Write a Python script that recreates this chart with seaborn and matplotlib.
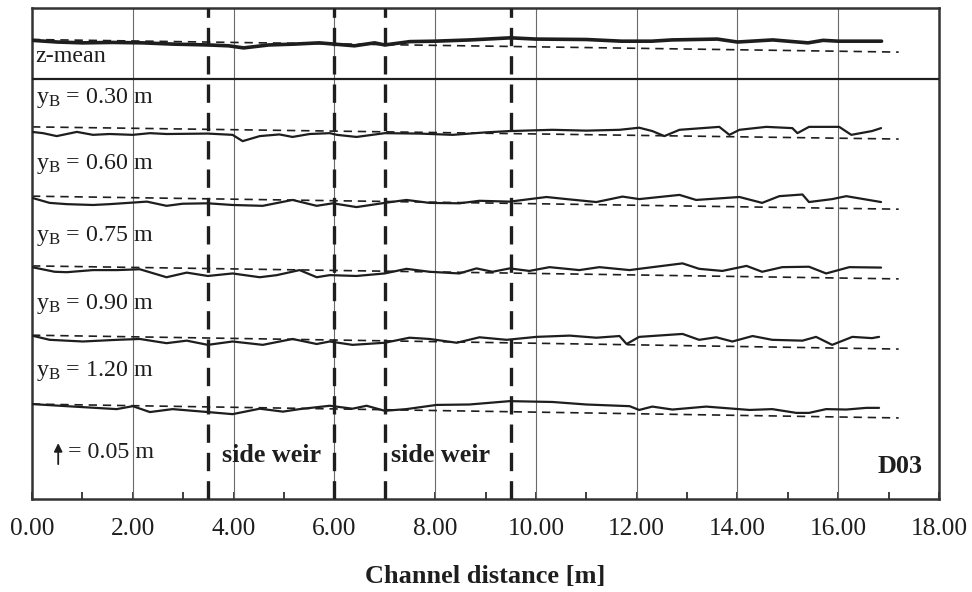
import numpy as np
import pandas as pd
import matplotlib
matplotlib.use("Agg")
import matplotlib.pyplot as plt
import seaborn as sns
from matplotlib.ticker import MultipleLocator, FormatStrFormatter

# ---------------- data (x in m, y = stacked water level in cm) ----------------
x_zmean = [0, 0.5, 1.0, 1.6, 2.2, 2.8, 3.5, 3.9, 4.2, 4.7, 5.2, 5.7, 6.4, 6.8, 7.0, 7.5,
           8.0, 8.7, 9.5, 10.0, 11.0, 11.7, 12.3, 12.7, 13.6, 14.0, 14.7, 15.4, 15.7, 16.0, 16.86]
y_zmean = [109.2, 108.8, 108.6, 108.7, 108.6, 108.3, 108.1, 107.9, 107.4, 108.1, 108.3, 108.6,
           107.9, 108.6, 108.1, 108.9, 109.0, 109.3, 109.8, 109.5, 109.4, 109.0, 109.0, 109.3,
           109.5, 108.8, 109.3, 108.6, 109.2, 109.0, 109.0]

x_030 = [0.0, 0.22, 0.49, 0.89, 1.21, 1.54, 2.0, 2.34, 2.67, 3.49, 3.98, 4.18, 4.52, 4.91,
         5.17, 5.51, 5.91, 6.05, 6.44, 7.0, 7.69, 8.35, 9.02, 9.48, 10.33, 11.0, 11.66, 12.05,
         12.31, 12.55, 12.85, 13.64, 13.84, 14.04, 14.57, 15.09, 15.19, 15.42, 16.02, 16.26,
         16.67, 16.85]
y_030 = [87.4, 87.1, 86.4, 87.4, 86.7, 86.9, 86.7, 87.1, 86.9, 87.0, 86.7, 85.2, 86.4, 86.8,
         86.2, 86.9, 87.1, 86.7, 86.2, 87.1, 87.0, 86.7, 87.3, 87.6, 87.9, 87.7, 87.9, 88.4,
         87.6, 86.4, 87.9, 88.6, 86.7, 87.9, 88.6, 88.3, 87.1, 88.6, 88.6, 86.7, 87.6, 88.3]

x_060 = [0, 0.35, 0.69, 1.21, 1.54, 2.28, 2.67, 2.99, 3.49, 3.98, 4.58, 5.17, 5.65, 5.97,
         6.44, 7.0, 7.43, 7.89, 8.48, 8.88, 9.48, 10.21, 10.61, 11.2, 11.72, 12.05, 12.85,
         13.18, 14.04, 14.49, 14.83, 15.29, 15.42, 15.88, 16.16, 16.85]
y_060 = [71.7, 70.5, 70.2, 70.0, 70.2, 70.8, 69.8, 70.3, 70.4, 70.0, 69.8, 71.2, 69.8, 70.4,
         69.5, 70.5, 71.2, 70.5, 70.4, 71.0, 70.8, 71.9, 71.4, 70.7, 72.0, 71.4, 72.4, 71.2,
         71.9, 70.5, 72.1, 72.5, 70.7, 71.4, 72.1, 70.7]

x_075 = [0, 0.45, 0.69, 1.21, 1.69, 2.14, 2.67, 3.07, 3.49, 3.98, 4.52, 4.86, 5.31, 5.65,
         5.91, 6.44, 7.0, 7.43, 7.89, 8.48, 8.82, 9.14, 9.48, 9.87, 10.27, 10.86, 11.26, 11.86,
         12.05, 12.91, 13.24, 13.70, 14.18, 14.49, 14.89, 15.42, 15.76, 16.22, 16.85]
y_075 = [55.2, 54.1, 54.0, 54.5, 54.5, 54.7, 52.8, 53.9, 53.1, 53.7, 52.8, 53.3, 54.5, 52.8,
         53.3, 53.1, 53.7, 54.8, 54.1, 53.7, 54.9, 54.1, 54.9, 54.3, 55.2, 54.5, 55.2, 54.5,
         54.8, 56.1, 54.8, 54.3, 55.5, 54.1, 55.2, 55.3, 53.7, 55.2, 55.1]

x_090 = [0, 0.35, 1.01, 1.69, 2.14, 2.67, 3.07, 3.49, 3.98, 4.58, 5.17, 5.65, 5.91, 6.36,
         7.0, 7.49, 7.89, 8.43, 8.88, 9.42, 10.01, 10.67, 11.2, 11.66, 11.8, 12.05, 12.91,
         13.24, 13.58, 13.9, 14.3, 14.69, 15.29, 15.56, 15.88, 16.28, 16.67, 16.81]
y_090 = [38.9, 37.9, 37.5, 37.9, 38.1, 37.1, 37.7, 36.7, 37.5, 36.7, 38.1, 36.9, 37.5, 36.7,
         37.2, 38.4, 38.1, 37.2, 38.5, 37.9, 38.6, 38.9, 38.4, 38.8, 36.9, 38.6, 39.3, 37.9,
         38.5, 37.5, 38.8, 37.9, 37.7, 38.6, 36.7, 38.6, 38.3, 38.6]

x_120 = [0, 0.69, 1.68, 2.0, 2.34, 2.79, 3.49, 3.98, 4.52, 4.98, 5.31, 5.91, 6.36, 6.64,
         7.0, 7.43, 8.03, 8.68, 9.48, 10.33, 11.0, 11.86, 12.05, 12.31, 12.71, 13.38, 14.24,
         14.69, 15.17, 15.42, 15.76, 16.16, 16.56, 16.81]
y_120 = [22.6, 22.1, 21.4, 22.1, 20.7, 21.4, 20.7, 20.2, 21.5, 20.8, 21.4, 22.2, 21.5, 22.2,
         21.0, 21.4, 22.4, 22.5, 23.3, 23.1, 22.5, 22.1, 21.2, 22.0, 21.3, 22.0, 21.2, 21.4,
         20.5, 20.5, 21.4, 21.3, 21.7, 21.7]

# mean-slope reference lines (start / end level)
ref_x = [0.0, 17.2]
ref_zmean = [109.4, 106.4]
ref_030 = [88.6, 85.7]
ref_060 = [72.1, 69.0]
ref_075 = [55.5, 52.4]
ref_090 = [39.0, 35.7]
ref_120 = [22.6, 19.3]

weir_edges = [3.5, 6.0, 7.0, 9.5]
grid_x = [2, 4, 6, 8, 10, 12, 14, 16]
yb_labels = ["0.30", "0.60", "0.75", "0.90", "1.20"]
panel_split = 100.0
scale_arrow_cm = 5.0

# ---------------- styling ----------------
sns.set_theme(style="white")
plt.rcParams["font.family"] = ["Liberation Serif", "DejaVu Serif"]
plt.rcParams["mathtext.fontset"] = "custom"
plt.rcParams["mathtext.rm"] = "Liberation Serif"
plt.rcParams["mathtext.it"] = "Liberation Serif:italic"
plt.rcParams["mathtext.bf"] = "Liberation Serif:bold"

fig = plt.figure(figsize=(9.72, 5.92), dpi=100)
ax = fig.add_axes([32 / 972, 93 / 592, 907 / 972, 491 / 592])

ink = "#1e1e1e"

for gx in grid_x:
    ax.axvline(gx, color="#6a6a6a", lw=0.8, zorder=1)
for wx in weir_edges:
    ax.axvline(wx, color=ink, lw=2.4, dashes=(5.5, 3.0), zorder=3)
ax.axhline(panel_split, color=ink, lw=1.6, zorder=3)

profiles = [
    (x_zmean, y_zmean, ref_zmean, 2.6),
    (x_030, y_030, ref_030, 1.6),
    (x_060, y_060, ref_060, 1.6),
    (x_075, y_075, ref_075, 1.6),
    (x_090, y_090, ref_090, 1.6),
    (x_120, y_120, ref_120, 1.6),
]
for xs, ys, ref, lw in profiles:
    sns.lineplot(x=ref_x, y=ref, ax=ax, color=ink, lw=1.2, dashes=False,
                 linestyle=(0, (5, 3.5)), zorder=2)
    sns.lineplot(x=xs, y=ys, ax=ax, color=ink, lw=lw, sort=False, zorder=4)

ax.set_xlim(0, 18)
ax.set_ylim(0, 116.9)
ax.xaxis.set_major_locator(MultipleLocator(2))
ax.xaxis.set_minor_locator(MultipleLocator(1))
ax.xaxis.set_major_formatter(FormatStrFormatter("%.2f"))
ax.set_yticks([])
ax.tick_params(axis="x", which="both", direction="in", length=5, width=1.2,
               color=ink, bottom=True, labelsize=18.3, labelcolor=ink, pad=14)
ax.tick_params(axis="x", which="minor", length=5)
for s in ax.spines.values():
    s.set_color("#333333")
    s.set_linewidth(1.8)
ax.set_xlabel("Channel distance [m]", fontsize=19, fontweight="bold", color=ink, labelpad=18)
ax.set_ylabel("")

txt = dict(color=ink, fontsize=17.3, va="center", ha="left")
ax.text(0.07, 105.4, "z-mean", **txt)
for lab, yy in zip(yb_labels, [95.4, 79.8, 62.7, 46.5, 30.5]):
    ax.text(0.07, yy, r"y$_{\mathrm{B}}$ = " + lab + " m", **txt)

ax.annotate("", xy=(0.52, 8.3 + scale_arrow_cm), xytext=(0.52, 8.3),
            arrowprops=dict(arrowstyle="-|>", color=ink, lw=1.3, mutation_scale=12,
                            shrinkA=0, shrinkB=0))
ax.text(0.72, 11.0, "= 0.05 m", **txt)

bold = dict(color=ink, fontsize=18.8, fontweight="bold", va="center")
ax.text(4.75, 10.3, "side weir", ha="center", **bold)
ax.text(8.1, 10.3, "side weir", ha="center", **bold)
ax.text(17.68, 7.7, "D03", ha="right", **bold)

fig.savefig("out.png", dpi=100)
